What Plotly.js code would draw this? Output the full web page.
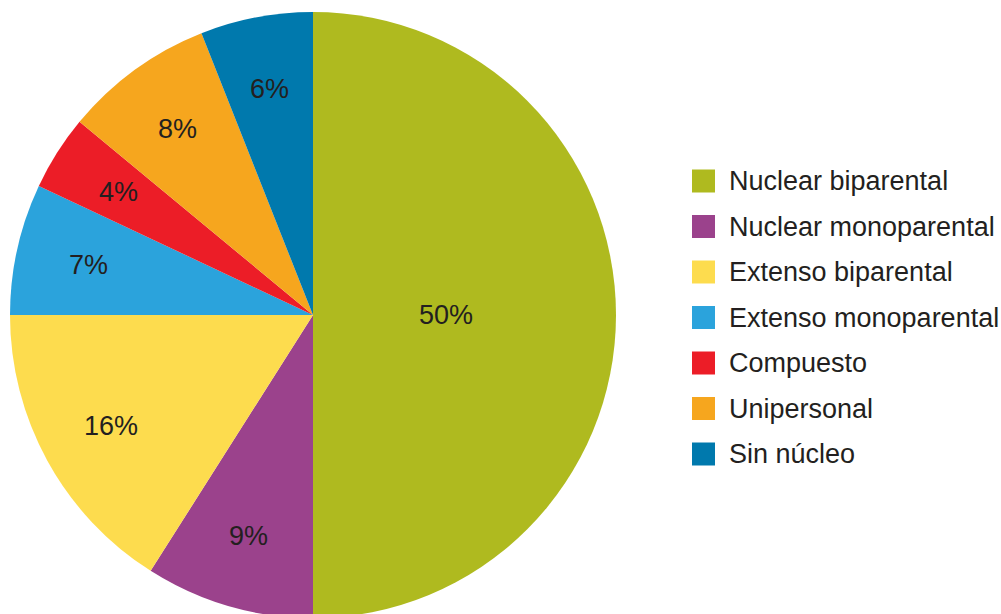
<!DOCTYPE html>
<html>
<head>
<meta charset="utf-8">
<script src="https://cdn.plot.ly/plotly-3.0.1.min.js"></script>
<style>
html,body{margin:0;padding:0;overflow:hidden;background:#fff;}
#chart{width:1001px;height:624px;}
</style>
</head>
<body>
<div id="chart"></div>
<script>
const categories = ["Nuclear biparental","Nuclear monoparental","Extenso biparental","Extenso monoparental","Compuesto","Unipersonal","Sin núcleo"];
const values = [50, 9, 16, 7, 4, 8, 6];
const colors = ["#AFBA1F","#9B428C","#FDDC4E","#2BA3DC","#EC1D27","#F6A61E","#0079AD"];

const W = 1001, H = 624;
const textColor = "#231F20";
const fontFam = "Liberation Sans, Arial, Helvetica, sans-serif";

// pie geometry (pixels)
const pcx = 313, pcy = 315, pR = 303;

const trace = {
  type: "pie",
  labels: categories,
  values: values,
  sort: false,
  direction: "clockwise",
  rotation: 0,
  marker: {colors: colors, line: {width: 0}},
  textinfo: "none",
  hoverinfo: "label+percent",
  showlegend: false,
  domain: {x: [(pcx-pR)/W, (pcx+pR)/W], y: [(H-(pcy+pR))/H, (H-(pcy-pR))/H]}
};

const shapes = [], annotations = [];

// percent labels placed along each slice's mid-angle (derived from values)
const total = values.reduce((a, b) => a + b, 0);
let cum = 0;
values.forEach((v) => {
  const frac = v / total;
  const mid = (cum + frac / 2) * 2 * Math.PI;
  cum += frac;
  const rr = (frac >= 0.25 ? 0.44 : 0.76) * pR;
  const px = pcx + rr * Math.sin(mid);
  const py = pcy - rr * Math.cos(mid);
  annotations.push({xref:"paper", yref:"paper", x: px / W, y: (H - py) / H,
    xanchor:"center", yanchor:"middle", showarrow:false,
    text: Math.round(frac * 100) + "%",
    font:{family:fontFam, size:27, color:textColor}});
});

// custom legend built from categories/colors
const legX = 692, legY0 = 181, legStep = 45.5, sq = 23;
categories.forEach((c, i) => {
  const cy = legY0 + i*legStep;
  shapes.push({type:"rect", xref:"paper", yref:"paper",
    x0: legX/W, x1: (legX+sq)/W, y0: (H-(cy+sq/2))/H, y1: (H-(cy-sq/2))/H,
    fillcolor: colors[i], line:{width:0}});
  annotations.push({xref:"paper", yref:"paper", x:(legX+sq+12)/W, y:(H-cy)/H,
    xanchor:"left", yanchor:"middle", showarrow:false, text:c,
    font:{family:fontFam, size:27, color:textColor}});
});

const layout = {
  width: W, height: H,
  margin: {l:0, r:0, t:0, b:0},
  paper_bgcolor: "#fff",
  showlegend: false,
  shapes: shapes,
  annotations: annotations
};

Plotly.newPlot("chart", [trace], layout, {displayModeBar:false, staticPlot:true});
</script>
</body>
</html>
